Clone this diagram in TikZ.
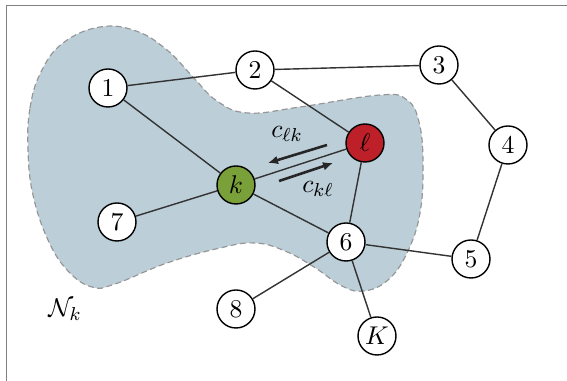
\documentclass[tikz,border=0pt]{standalone}
\usetikzlibrary{arrows.meta}
\definecolor{blobfill}{RGB}{188,206,215}
\definecolor{blobline}{RGB}{150,150,150}
\definecolor{agentk}{RGB}{122,160,58}
\definecolor{agentl}{RGB}{190,32,42}
\begin{document}
\begin{tikzpicture}[
  x=0.15mm, y=-0.15mm,
  every node/.style={font=\fontsize{11}{13}\selectfont},
  agent/.style={
    draw,
    circle,
    fill=white,
    line width=0.6pt,
    minimum size=5.7mm,
    inner sep=0pt
  },
  link/.style={line width=0.6pt, draw=black!80},
  flow/.style={-{Latex[length=1.5mm,width=1.3mm]}, line width=1.1pt, draw=black!85}
]
\useasboundingbox (0,0) rectangle (567,381);
\draw[gray, line width=0.6pt] (6.5,381) -- (6.5,5.5) -- (567,5.5);
\fill[blobfill, draw=blobline, dash pattern=on 2.5pt off 1.5pt, line width=0.5pt]
  plot[smooth cycle, tension=0.7] coordinates {
    (28,150) (30,108) (41,72) (63,43) (100,27) (136,31) (167,50)
    (193,77) (217,101) (248,113) (300,107) (380,95) (407,100)
    (419,122) (423,162) (420,213) (407,253) (388,280) (364,291)
    (342,286) (314,267) (285,251) (255,243) (220,248) (167,263)
    (115,284) (92,287) (68,271) (48,240) (33,195)};
\node[agent] (n1) at (108,88) {$1$};
\node[agent] (n2) at (255,70) {$2$};
\node[agent] (n3) at (439,65) {$3$};
\node[agent] (n4) at (508,145) {$4$};
\node[agent] (n5) at (471,259) {$5$};
\node[agent] (n6) at (346,242) {$6$};
\node[agent] (n7) at (117,222) {$7$};
\node[agent] (n8) at (236,309) {$8$};
\node[agent] (nK) at (377,336) {$K$};
\node[agent, fill=agentk] (k) at (236,185) {$k$};
\node[agent, fill=agentl] (l) at (365,143) {$\ell$};
\node (hood) at (65,310) {$\mathcal{N}_k$};
\draw[link] (n1) -- (n2);
\draw[link] (n2) -- (n3);
\draw[link] (n3) -- (n4);
\draw[link] (n4) -- (n5);
\draw[link] (n5) -- (n6);
\draw[link] (n1) -- (k);
\draw[link] (n2) -- (l);
\draw[link] (k) -- (l);
\draw[link] (k) -- (n7);
\draw[link] (k) -- (n6);
\draw[link] (l) -- (n6);
\draw[link] (n6) -- (n8);
\draw[link] (n6) -- (nK);
\coordinate (lkfrom) at (327,145);
\coordinate (lkto) at (268,163);
\coordinate (klfrom) at (279,181);
\coordinate (klto) at (333,163);
\draw[flow] (lkfrom) -- (lkto);
\draw[flow] (klfrom) -- (klto);
\node (clk) at (287,134) {$c_{\ell k}$};
\node (ckl) at (318,189) {$c_{k\ell}$};
\end{tikzpicture}
\end{document}
